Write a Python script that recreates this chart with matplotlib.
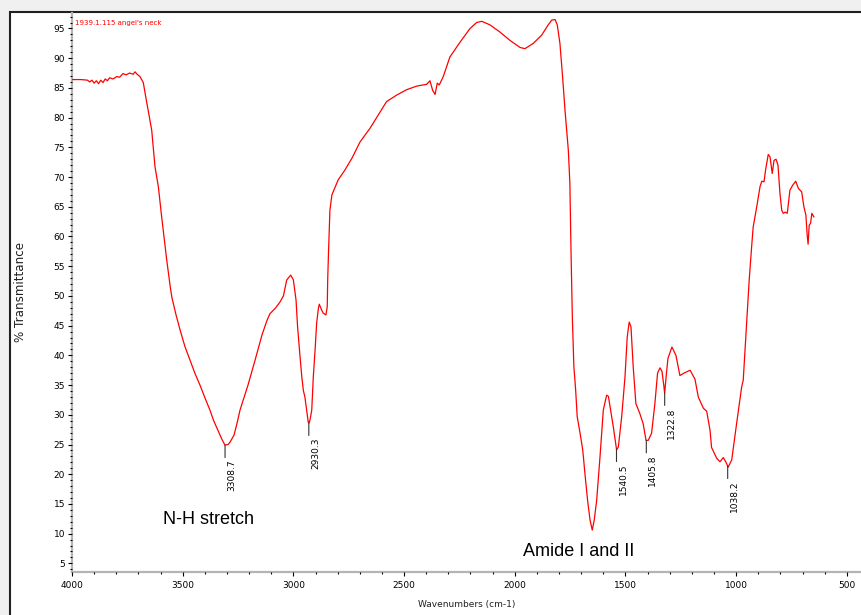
import matplotlib
matplotlib.use("Agg")
import matplotlib.pyplot as plt
from matplotlib.patches import Rectangle
from matplotlib.ticker import MultipleLocator
import numpy as np

# spectrum (wavenumber in cm-1, % transmittance)
wavenumber = [4000, 3960, 3930, 3920, 3910, 3900, 3890, 3880, 3870, 3860, 3850, 3840, 3830, 3815,
              3798, 3785, 3770, 3755, 3740, 3724, 3715, 3706, 3693, 3678, 3667, 3655, 3640, 3625,
              3610, 3595, 3572, 3555, 3548, 3530, 3512, 3490, 3467, 3445, 3422, 3400, 3377, 3360,
              3341, 3322, 3309, 3295, 3286, 3268, 3255, 3241, 3205, 3173, 3142, 3120, 3106, 3080,
              3060, 3045, 3030, 3012, 3000, 2988, 2981, 2970, 2962, 2955, 2948, 2940, 2933, 2930,
              2925, 2917, 2910, 2902, 2895, 2887, 2883, 2872, 2865, 2853, 2847, 2845, 2841, 2835,
              2826, 2798, 2767, 2735, 2699, 2654, 2609, 2579, 2533, 2488, 2443, 2398, 2383, 2371,
              2360, 2350, 2341, 2323, 2293, 2247, 2202, 2172, 2149, 2112, 2067, 2022, 1976, 1954,
              1916, 1878, 1849, 1833, 1818, 1808, 1796, 1784, 1773, 1758, 1751, 1746, 1740, 1733,
              1725, 1718, 1705, 1693, 1683, 1671, 1660, 1650, 1641, 1630, 1615, 1600, 1585, 1577,
              1567, 1555, 1540, 1532, 1517, 1502, 1492, 1483, 1475, 1465, 1453, 1435, 1420, 1407,
              1397, 1382, 1367, 1355, 1344, 1335, 1327, 1323, 1316, 1308, 1290, 1272, 1254, 1236,
              1208, 1186, 1171, 1148, 1133, 1118, 1111, 1088, 1073, 1058, 1047, 1036, 1020, 998,
              975, 968, 960, 941, 930, 923, 907, 892, 884, 874, 867, 855, 847, 837, 829, 820, 811,
              802, 794, 787, 778, 769, 757, 745, 731, 719, 704, 694, 685, 679, 675, 670, 664, 658,
              649]
transmittance = [86.4, 86.4, 86.3, 86.0, 86.3, 85.8, 86.2, 85.7, 86.3, 85.9, 86.5, 86.2, 86.7, 86.5,
                 86.9, 86.8, 87.4, 87.2, 87.5, 87.3, 87.7, 87.3, 86.9, 85.9, 83.5, 81.0, 77.9, 71.7,
                 68.4, 63.3, 56.0, 51.2, 49.6, 46.8, 44.3, 41.5, 39.2, 37.0, 35.0, 32.9, 30.8, 29.0,
                 27.4, 25.8, 24.9, 25.0, 25.4, 26.6, 28.5, 30.8, 35.0, 39.2, 43.4, 45.8, 47.0, 48.0,
                 49.0, 50.0, 52.7, 53.5, 52.7, 49.3, 44.8, 39.8, 36.4, 34.1, 33.0, 30.8, 28.8, 28.6,
                 29.1, 30.8, 36.4, 40.9, 45.4, 47.9, 48.6, 47.6, 47.1, 46.8, 48.2, 52.7, 57.7, 64.4,
                 67.0, 69.5, 71.2, 73.2, 75.9, 78.2, 80.9, 82.7, 83.8, 84.7, 85.3, 85.6, 86.2, 84.6,
                 83.9, 85.8, 85.5, 86.9, 90.2, 92.7, 95.0, 96.0, 96.2, 95.6, 94.4, 93.0, 91.8, 91.6,
                 92.5, 93.9, 95.6, 96.4, 96.5, 95.6, 92.5, 86.9, 81.2, 74.5, 68.9, 57.7, 46.5, 38.1,
                 34.2, 29.7, 26.9, 24.1, 20.1, 15.6, 12.3, 10.6, 12.3, 15.6, 22.9, 30.8, 33.3, 33.1,
                 30.8, 28.0, 24.1, 24.6, 29.7, 36.4, 43.1, 45.6, 44.8, 38.1, 31.9, 30.2, 28.5, 25.7,
                 25.7, 26.9, 31.9, 37.0, 37.9, 37.3, 35.0, 33.6, 36.5, 39.5, 41.4, 40.0, 36.6, 37.0,
                 37.5, 36.0, 33.0, 31.1, 30.6, 27.4, 24.5, 22.7, 22.1, 22.8, 22.1, 21.2, 22.4, 28.5,
                 34.7, 35.8, 40.8, 52.7, 58.3, 61.6, 65.0, 68.4, 69.3, 69.2, 71.2, 73.8, 73.4, 70.6,
                 72.8, 73.0, 72.0, 67.2, 64.4, 63.9, 64.1, 63.9, 67.8, 68.6, 69.3, 68.1, 67.5, 65.0,
                 63.6, 60.2, 58.7, 61.9, 62.2, 63.9, 63.3]

# labelled peaks
peak_positions = [3308.7, 2930.3, 1540.5, 1405.8, 1322.8, 1038.2]
peak_labels = ['3308.7', '2930.3', '1540.5', '1405.8', '1322.8', '1038.2']

# band names written on the chart
band_names = ['N-H stretch', 'Amide I and II']
band_x = [3589, 1963]
band_y = [11.6, 6.2]

sample_name = "1939.1.115 angel's neck"

plt.rcParams['font.family'] = 'DejaVu Sans'

fig = plt.figure(figsize=(8.61, 6.15), dpi=100, facecolor='#f0f0f0')
# white panel with dark border at the top and left
panel = Rectangle((10 / 861, -0.2), 1.2, 1.2 - 12 / 615, transform=fig.transFigure,
                  facecolor='white', edgecolor='#202020', lw=1.5, zorder=-10)
fig.patches.append(panel)

ax = fig.add_axes([72 / 861, 43.3 / 615, 789 / 861, 558.7 / 615])
ax.set_facecolor('none')

# plot the spectrum
ax.plot(wavenumber, transmittance, color='#ff0000', lw=0.9)

ax.set_xlim(4000, 436)
ax.set_ylim(3.6, 97.6)

ax.xaxis.set_major_locator(MultipleLocator(500))
ax.xaxis.set_minor_locator(MultipleLocator(100))
ax.yaxis.set_major_locator(MultipleLocator(5))
ax.yaxis.set_minor_locator(MultipleLocator(1))

for side in ['top', 'right']:
    ax.spines[side].set_visible(False)
for side in ['left', 'bottom']:
    ax.spines[side].set_color('#b4b4b4')
    ax.spines[side].set_linewidth(1.6)
    ax.spines[side].set_zorder(1)

ax.tick_params(which='both', direction='out', color='black', width=0.8, labelsize=6.5)
ax.tick_params(which='major', length=3)
ax.tick_params(which='minor', length=1.5)
ax.tick_params(axis='y', pad=2)
ax.tick_params(axis='x', pad=4)

# Labelling axes
ax.set_ylabel('% Transmittance', fontsize=8.6, color='#202020')
ax.yaxis.set_label_coords(-0.057, 0.5)
ax.set_xlabel('Wavenumbers (cm-1)', fontsize=6.5, color='#202020')
ax.xaxis.set_label_coords(0.5, -0.05)

# sample name in the corner
ax.text(0.004, 0.9875, sample_name, transform=ax.transAxes, color='#ff0000',
        fontsize=5, va='top', ha='left')

# peak markers
wn_rev = np.array(wavenumber[::-1], dtype=float)
tr_rev = np.array(transmittance[::-1], dtype=float)
for pos, lab in zip(peak_positions, peak_labels):
    t = np.interp(pos, wn_rev, tr_rev)
    ax.annotate('', xy=(pos, t), xytext=(0, -9), textcoords='offset points',
                arrowprops=dict(arrowstyle='-', color='#333333', lw=0.8, shrinkA=0, shrinkB=0))
    ax.annotate(lab, xy=(pos, t), xytext=(1.5, -10.5), textcoords='offset points',
                rotation=90, ha='left', va='top', fontsize=6.5)

for name, x, y in zip(band_names, band_x, band_y):
    ax.text(x, y, name, fontsize=13, family='Liberation Sans', va='baseline', ha='left')

fig.savefig('out.png', dpi=100, facecolor=fig.get_facecolor())
